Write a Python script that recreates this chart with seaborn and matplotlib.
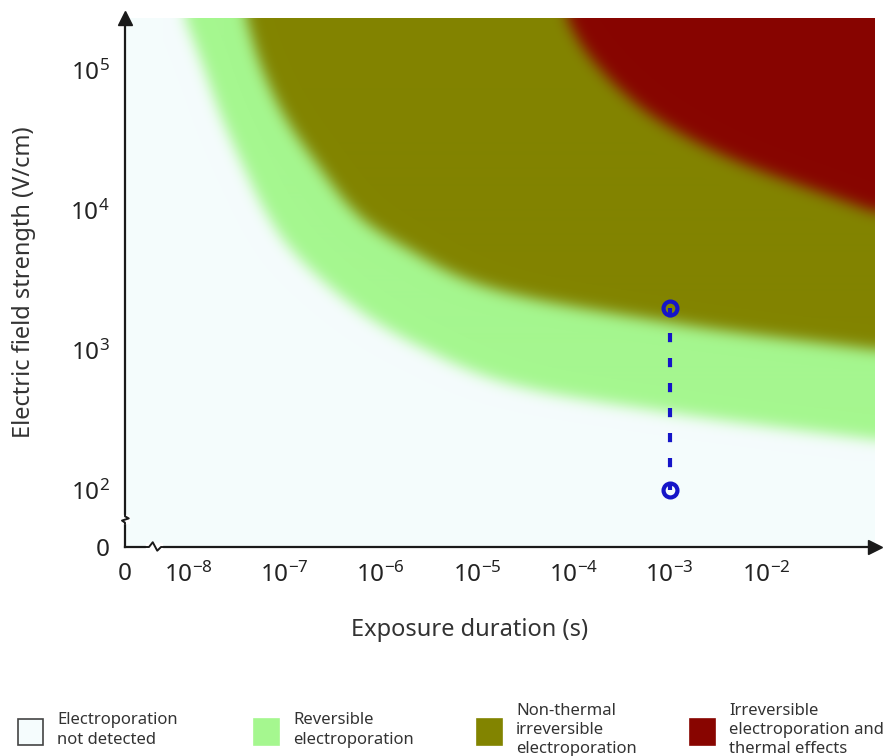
import numpy as np
import matplotlib
matplotlib.use("Agg")
import matplotlib.pyplot as plt
from matplotlib.patches import Rectangle
from matplotlib.ticker import FixedLocator, NullFormatter
import seaborn as sns

# Region boundaries: exposure duration (s) -> field strength (V/cm)
reversible_t = [8.9e-9, 1.4e-8, 2.15e-8, 3.64e-8, 6.6e-8, 1.2e-7, 5.8e-7, 2.9e-6, 1.95e-5, 1e-3, 1.29e-1]
reversible_E = [2.47e5, 1.09e5, 4.8e4, 2.1e4, 9.2e3, 5.1e3, 1.93e3, 1.0e3, 581, 355, 228]
irreversible_t = [3.9e-8, 5.6e-8, 9.7e-8, 2.18e-7, 5.7e-7, 1.92e-6, 1.07e-5, 1e-3, 1.29e-1]
irreversible_E = [2.47e5, 1.09e5, 4.8e4, 2.1e4, 9.2e3, 5.2e3, 2.9e3, 1.56e3, 1.0e3]
thermal_t = [8.2e-5, 1.26e-4, 2.52e-4, 6.25e-4, 3.5e-3, 1.29e-1]
thermal_E = [2.47e5, 1.44e5, 8.2e4, 4.8e4, 2.47e4, 9.7e3]

# Example pulse
pulse_t = [1e-3, 1e-3]
pulse_E = [2000, 100]

region_labels = ["Electroporation\nnot detected", "Reversible\nelectroporation",
                 "Non-thermal\nirreversible\nelectroporation",
                 "Irreversible\nelectroporation and\nthermal effects"]
region_colors = ["#f5fcfd", "#a5f78f", "#828400", "#880500"]

x_ticks = [1e-8, 1e-7, 1e-6, 1e-5, 1e-4, 1e-3, 1e-2]
x_ticklabels = ["$10^{-8}$", "$10^{-7}$", "$10^{-6}$", "$10^{-5}$", "$10^{-4}$", "$10^{-3}$", "$10^{-2}$"]
y_ticks = [1e2, 1e3, 1e4, 1e5]
y_ticklabels = ["$10^{2}$", "$10^{3}$", "$10^{4}$", "$10^{5}$"]

sns.set_style("white")
plt.rcParams["font.family"] = ["Noto Sans", "DejaVu Sans"]
plt.rcParams["mathtext.default"] = "regular"

xlim = (10 ** -8.653, 10 ** -0.87)
ylim = (10 ** 1.593, 10 ** 5.37)

fig = plt.figure(figsize=(8.87, 7.56), dpi=100)
pos = [125 / 887, 1 - 547 / 756, 750 / 887, 529 / 756]


def smooth_curve(t, E, n=60, alpha=0.5):
    # centripetal Catmull-Rom spline through the read points, in log-log space
    p = np.column_stack([np.log10(t), np.log10(E)])
    p = np.vstack([2 * p[0] - p[1], p, 2 * p[-1] - p[-2]])
    out = []
    for i in range(1, len(p) - 2):
        P0, P1, P2, P3 = p[i - 1], p[i], p[i + 1], p[i + 2]
        t0 = 0.0
        t1 = t0 + np.linalg.norm(P1 - P0) ** alpha
        t2 = t1 + np.linalg.norm(P2 - P1) ** alpha
        t3 = t2 + np.linalg.norm(P3 - P2) ** alpha
        tt = np.linspace(t1, t2, n, endpoint=False)[:, None]
        A1 = (t1 - tt) / (t1 - t0) * P0 + (tt - t0) / (t1 - t0) * P1
        A2 = (t2 - tt) / (t2 - t1) * P1 + (tt - t1) / (t2 - t1) * P2
        A3 = (t3 - tt) / (t3 - t2) * P2 + (tt - t2) / (t3 - t2) * P3
        B1 = (t2 - tt) / (t2 - t0) * A1 + (tt - t0) / (t2 - t0) * A2
        B2 = (t3 - tt) / (t3 - t1) * A2 + (tt - t1) / (t3 - t1) * A3
        out.append((t2 - tt) / (t2 - t1) * B1 + (tt - t1) / (t2 - t1) * B2)
    out.append(p[-2][None, :])
    c = np.vstack(out)
    c = c[np.argsort(c[:, 0])]
    return c[:, 0], c[:, 1]


# background map, sampled evenly in log space then softened
nx, ny = 750, 529
lu = np.linspace(np.log10(xlim[0]), np.log10(xlim[1]), nx)
lv = np.linspace(np.log10(ylim[0]), np.log10(ylim[1]), ny)
level = np.zeros((ny, nx), dtype=int)
for t, E in [(reversible_t, reversible_E), (irreversible_t, irreversible_E), (thermal_t, thermal_E)]:
    cu, cv = smooth_curve(t, E)
    edge = np.interp(lu, cu, cv, left=9)
    level += (lv[:, None] >= edge[None, :]).astype(int)
rgb = np.array([matplotlib.colors.to_rgb(c) for c in region_colors])[level]


def soften(img, s):
    k = np.exp(-0.5 * (np.arange(-3 * s, 3 * s + 1) / s) ** 2)
    k /= k.sum()
    p = len(k) // 2
    for ax_i in (0, 1):
        pad = [(0, 0)] * 3
        pad[ax_i] = (p, p)
        img = np.apply_along_axis(lambda m: np.convolve(m, k, mode="valid"), ax_i, np.pad(img, pad, mode="edge"))
    return img


rgb = np.clip(soften(rgb, 7), 0, 1)

bg = fig.add_axes(pos, zorder=0)
bg.imshow(rgb, origin="lower", aspect="auto", interpolation="bilinear",
          extent=[lu[0], lu[-1], lv[0], lv[-1]])
bg.set_axis_off()

ax = fig.add_axes(pos, zorder=1)
ax.set_facecolor("none")
ax.set_xscale("log")
ax.set_yscale("log")
ax.set_xlim(*xlim)
ax.set_ylim(*ylim)

sns.lineplot(x=pulse_t, y=pulse_E, ax=ax, estimator=None, sort=False, color="#1515c8",
             lw=3, dashes=False, linestyle=(0, (2.2, 3.8)), marker="o", ms=10,
             mfc="none", mec="#1515c8", mew=3)

for s in ["top", "right"]:
    ax.spines[s].set_visible(False)
for s in ["left", "bottom"]:
    ax.spines[s].set_linewidth(1.6)
    ax.spines[s].set_color("#1a1a1a")

ax.set_xticks([xlim[0]] + x_ticks)
ax.set_xticklabels(["0"] + x_ticklabels)
ax.set_yticks([ylim[0]] + y_ticks)
ax.set_yticklabels(["0"] + y_ticklabels)
ax.xaxis.set_minor_locator(FixedLocator([m * 10.0 ** d for d in range(-8, -1) for m in range(2, 10)]))
ax.yaxis.set_minor_locator(FixedLocator([m * 10.0 ** d for d in range(2, 5) for m in range(2, 10)]))
ax.xaxis.set_minor_formatter(NullFormatter())
ax.yaxis.set_minor_formatter(NullFormatter())
ax.tick_params(which="major", direction="out", length=8, width=1.3, color="#333333",
               labelsize=17.5, labelcolor="#222222", pad=3)
ax.tick_params(which="minor", direction="out", length=5, width=1.3, color="#333333")
ax.tick_params(axis="y", which="major", length=9, pad=2)
ax.xaxis.get_major_ticks()[0].tick1line.set_color("#888888")
ax.yaxis.get_major_ticks()[0].tick1line.set_color("#888888")

ax.set_xlabel("Exposure duration (s)", fontsize=17, color="#333333")
ax.set_ylabel("Electric field strength (V/cm)", fontsize=17, color="#333333")
ax.xaxis.set_label_coords(0.46, -0.135)
ax.yaxis.set_label_coords(-0.118, 0.5)

# arrow heads
ax.plot(0, 1.0, marker="^", color="#1a1a1a", ms=10, transform=ax.transAxes, clip_on=False)
ax.plot(1.0, 0, marker=">", color="#1a1a1a", ms=10, transform=ax.transAxes, clip_on=False)

# axis breaks
ax.add_patch(Rectangle((-0.006, 0.045), 0.012, 0.016, transform=ax.transAxes,
                       color="white", clip_on=False, zorder=5))
ax.plot([0, 0, 0.005, -0.004, 0, 0], [0.062, 0.058, 0.054, 0.05, 0.046, 0.044], color="#1a1a1a",
        lw=1.4, transform=ax.transAxes, clip_on=False, zorder=6)
ax.add_patch(Rectangle((0.028, -0.008), 0.022, 0.016, transform=ax.transAxes,
                       color="white", clip_on=False, zorder=5))
ax.plot([0.027, 0.032, 0.037, 0.043, 0.048, 0.052], [0, 0, 0.009, -0.007, 0, 0], color="#1a1a1a",
        lw=1.4, transform=ax.transAxes, clip_on=False, zorder=6)

# legend row along the bottom
key_x = [18, 254, 477, 690]
for i, (lab, c) in enumerate(zip(region_labels, region_colors)):
    x = key_x[i] / 887
    fig.patches.append(Rectangle((x, 1 - 745 / 756), 25 / 887, 26 / 756, transform=fig.transFigure,
                                 facecolor=c, edgecolor="#444444" if i == 0 else c, lw=1.2))
    fig.text(x + 39 / 887, 1 - 730 / 756, lab, fontsize=12, color="#333333", va="center",
             ha="left", linespacing=1.25)

fig.savefig("out.png", dpi=100)
